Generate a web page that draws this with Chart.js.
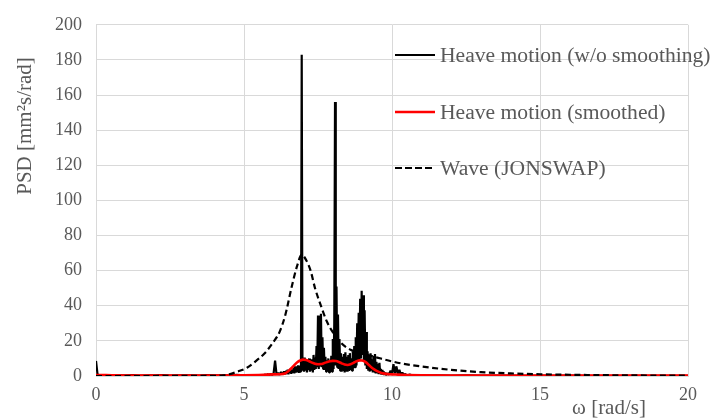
<!DOCTYPE html>
<html>
<head>
<meta charset="utf-8">
<script src="https://cdn.jsdelivr.net/npm/chart.js@4"></script>
<style>
html,body{margin:0;padding:0;background:#fff;}
#c{display:block;}
</style>
</head>
<body>
<canvas id="c" width="712" height="420"></canvas>
<script>
// ---- data ----
const seriesNames = ["Heave motion (w/o smoothing)", "Heave motion (smoothed)", "Wave (JONSWAP)"];
const xTicks = [0, 5, 10, 15, 20];
const yTicks = [0, 20, 40, 60, 80, 100, 120, 140, 160, 180, 200];

const rawOmega = [0,0.05,0.1,0.25,0.5,0.75,1,1.25,1.5,1.75,2,2.25,2.5,2.75,3,3.25,3.5,3.75,4,4.25,4.5,4.75,5,5.25,
5.5,5.55,5.6,5.65,5.7,5.75,5.8,5.85,5.9,5.95,6,6.05,6.1,6.15,6.2,6.25,6.3,6.35,6.4,
6.425,6.45,6.475,6.5,6.525,6.55,6.575,6.6,6.625,6.65,6.675,6.7,6.725,6.75,6.775,6.8,6.825,6.85,6.875,6.9,6.925,6.95,6.975,
7,7.025,7.05,7.075,7.1,7.125,7.15,7.175,7.2,7.225,7.25,7.275,7.3,7.325,7.35,7.375,7.4,7.425,7.45,7.475,
7.5,7.525,7.55,7.575,7.6,7.625,7.65,7.675,7.7,7.725,7.75,7.775,7.8,7.825,7.85,7.875,7.9,7.925,7.95,7.975,
8,8.025,8.05,8.075,8.1,8.125,8.15,8.175,8.2,8.225,8.25,8.275,8.3,8.325,8.35,8.375,8.4,8.425,8.45,8.475,
8.5,8.525,8.55,8.575,8.6,8.625,8.65,8.675,8.7,8.725,8.75,8.775,8.8,8.825,8.85,8.875,8.9,8.925,8.95,8.975,
9,9.025,9.05,9.075,9.1,9.125,9.15,9.175,9.2,9.225,9.25,9.275,9.3,9.325,9.35,9.375,9.4,9.425,9.45,9.475,
9.5,9.525,9.55,9.575,9.6,9.625,9.65,9.675,9.7,9.725,9.75,9.775,9.8,
9.85,9.9,9.95,10,10.05,10.1,10.15,10.2,10.25,10.3,10.35,10.4,10.45,10.5,10.6,10.7,10.8,11,11.5,12,12.5,13,13.5,14,14.5,15,15.5,16,16.5,17,17.5,18,18.5,19,19.5,20];
const rawPSD = [8.6,1.2,0.3,0.5,0.2,0.4,0.3,0.5,0.2,0.4,0.3,0.5,0.2,0.4,0.3,0.4,0.2,0.5,0.3,0.4,0.3,0.6,0.4,0.5,
0.4,0.2,0.6,0.3,0.8,0.4,1.0,0.5,1.2,0.6,1.5,8.8,0.8,1.8,0.7,2.2,0.9,2.6,1.0,
3.0,1.2,3.6,1.0,2.8,1.5,4.2,1.3,3.5,1.8,4.8,1.5,5.5,2.0,4.6,2.2,6.0,1.8,5.2,2.5,7.5,183,3.0,
9.5,2.5,10.5,3.0,9.0,2.0,8.5,3.5,10.0,2.5,7.5,3.0,9.5,2.0,12.0,3.5,10.5,4.0,17.0,5.0,
34.5,4.0,14.0,6.0,35.5,5.0,22.0,4.0,16.0,3.5,11.0,2.5,9.0,3.0,10.0,2.0,8.0,3.0,11.5,2.5,
21.0,4.0,30.0,156,6.0,51.0,5.0,35.0,4.0,21.0,3.0,13.0,2.5,11.0,3.5,12.5,2.0,13.5,3.0,11.0,
2.5,12.0,3.5,13.0,4.0,10.0,3.0,14.0,4.5,17.0,5.0,22.0,6.0,30.0,8.0,36.0,9.0,44.0,10.0,48.5,
12.0,46.0,8.0,37.5,6.0,25.0,4.0,14.0,3.0,12.0,2.5,13.0,3.0,9.5,2.0,11.5,2.5,12.5,1.5,8.0,
2.0,7.0,1.0,7.5,1.5,4.0,0.8,3.5,1.0,2.5,0.6,2.0,0.5,
1.5,0.8,3.0,1.0,6.7,1.5,5.5,1.0,3.5,0.6,2.0,0.4,1.2,0.3,0.8,0.2,0.5,0.2,0.3,0.2,0.3,0.2,0.2,0.2,0.1,0.2,0.1,0.2,0.1,0.1,0.1,0.1,0.1,0.1,0.1,0.1];

const smoothOmega = [0,1,2,3,4,5,5.5,5.8,6,6.2,6.4,6.5,6.6,6.7,6.8,6.9,7,7.1,7.2,7.3,7.4,7.5,7.6,7.7,7.8,7.9,8,8.1,8.2,8.3,8.4,8.5,8.6,8.7,8.8,8.9,9,9.1,9.2,9.3,9.4,9.5,9.6,9.7,9.8,9.9,10,10.2,10.5,11,12,14,16,18,20];
const smoothPSD = [0.6,0.3,0.3,0.3,0.3,0.4,0.6,0.8,0.9,1.0,1.6,2.8,4.4,6.2,7.8,8.8,9.3,9.1,8.4,7.6,7.0,6.7,6.8,7.3,7.9,8.4,8.6,8.5,8.0,7.2,6.5,6.3,6.7,7.5,8.4,8.9,8.8,8.0,6.6,5.0,3.8,2.8,2.0,1.5,1.2,1.0,0.9,0.8,0.6,0.4,0.3,0.3,0.3,0.3,0.3];

const waveOmega = [0,4,4.3,4.5,4.8,5.1,5.4,5.7,6,6.2,6.4,6.6,6.8,6.95,7.1,7.25,7.4,7.6,7.8,8,8.3,8.6,9,9.5,10,10.5,11,12,13,14,15,16,17,18,19,20];
const wavePSD = [0,0.1,0.4,1.0,2.6,4.7,8.5,13.0,19.5,25,35,50,63,69,66,60,50,40,31,25,18.5,15,12.8,10.5,8.3,6.6,5.4,3.5,2.2,1.5,1.0,0.7,0.5,0.35,0.25,0.2];

// ---- build datasets ----
const toPts = (xs, ys) => xs.map((x, i) => ({x: x, y: ys[i]}));

const FONT = "'Liberation Serif', 'Times New Roman', serif";
const TXT = '#595959';

const overlay = {
  id: 'overlay',
  afterDraw(chart) {
    const ctx = chart.ctx;
    ctx.save();
    ctx.fillStyle = TXT;
    ctx.font = '21px ' + FONT;
    // y title
    ctx.save();
    ctx.translate(25, 126);
    ctx.rotate(-Math.PI / 2);
    ctx.textAlign = 'center';
    ctx.textBaseline = 'middle';
    ctx.fillText('PSD [mm²s/rad]', 0, 0);
    ctx.restore();
    // x title
    ctx.textAlign = 'center';
    ctx.textBaseline = 'middle';
    ctx.fillText('ω [rad/s]', 609, 408);
    // legend
    ctx.font = '21.6px ' + FONT;
    const rows = [55, 112, 168];
    const styles = [
      {color: '#000000', width: 2, dash: []},
      {color: '#ff0000', width: 2.5, dash: []},
      {color: '#000000', width: 2, dash: [7, 3]}
    ];
    ctx.textAlign = 'left';
    ctx.textBaseline = 'middle';
    rows.forEach((y, i) => {
      const s = styles[i];
      ctx.beginPath();
      ctx.setLineDash(s.dash);
      ctx.lineWidth = s.width;
      ctx.strokeStyle = s.color;
      ctx.moveTo(395, y);
      ctx.lineTo(435, y);
      ctx.stroke();
      ctx.setLineDash([]);
      ctx.fillStyle = TXT;
      ctx.fillText(seriesNames[i], 440, y + 1);
    });
    ctx.restore();
  }
};

new Chart(document.getElementById('c'), {
  type: 'line',
  data: {
    datasets: [
      {
        label: seriesNames[0],
        data: toPts(rawOmega, rawPSD),
        borderColor: '#000000',
        borderWidth: 2.2,
        borderJoinStyle: 'bevel',
        pointRadius: 0,
        tension: 0,
        order: 3
      },
      {
        label: seriesNames[1],
        data: toPts(smoothOmega, smoothPSD),
        borderColor: '#ff0000',
        borderWidth: 2.6,
        pointRadius: 0,
        cubicInterpolationMode: 'monotone',
        order: 2
      },
      {
        label: seriesNames[2],
        data: toPts(waveOmega, wavePSD),
        borderColor: '#000000',
        borderWidth: 2.2,
        borderDash: [6, 3.5],
        pointRadius: 0,
        cubicInterpolationMode: 'monotone',
        order: 1
      }
    ]
  },
  options: {
    responsive: false,
    animation: false,
    devicePixelRatio: 1,
    layout: {padding: {left: 0, right: 24, top: 18, bottom: 0}},
    plugins: {legend: {display: false}, tooltip: {enabled: false}},
    scales: {
      x: {
        type: 'linear',
        min: 0, max: 20,
        afterFit(s) { s.height = 44; },
        afterBuildTicks(s) { s.ticks = xTicks.map(v => ({value: v})); },
        grid: {color: '#d9d9d9', lineWidth: 1, drawTicks: false},
        border: {color: '#d9d9d9'},
        ticks: {color: TXT, font: {family: FONT, size: 18}, padding: 8, maxRotation: 0}
      },
      y: {
        type: 'linear',
        min: 0, max: 200,
        afterFit(s) { s.width = 96; },
        afterBuildTicks(s) { s.ticks = yTicks.map(v => ({value: v})); },
        grid: {color: '#d9d9d9', lineWidth: 1, drawTicks: false},
        border: {color: '#d9d9d9'},
        ticks: {color: TXT, font: {family: FONT, size: 18}, padding: 14}
      }
    }
  },
  plugins: [overlay]
});
</script>
</body>
</html>
